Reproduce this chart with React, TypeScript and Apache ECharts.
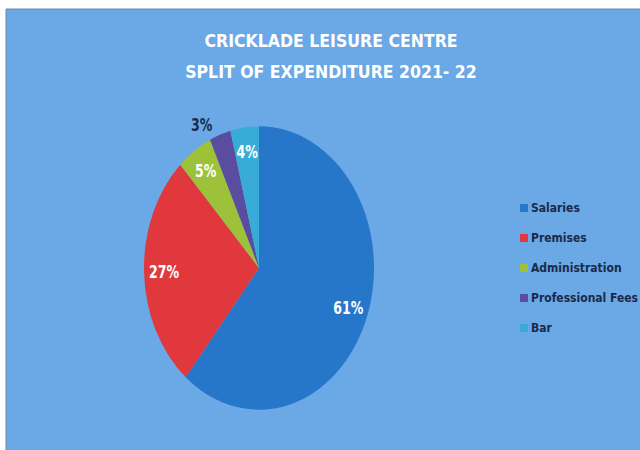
import React, { useEffect, useRef } from "react";
import * as echarts from "echarts";

const categories = ["Salaries", "Premises", "Administration", "Professional Fees", "Bar"];
const values = [61, 27, 5, 3, 4];
const colors = ["#2676ca", "#e0383c", "#9dc23a", "#5a4c9e", "#38acd6"];
const titleLines = ["CRICKLADE LEISURE CENTRE", "SPLIT OF EXPENDITURE 2021- 22"];
const outsideLabelIndex = 3;

const FONT = "'DejaVu Sans Condensed', 'Liberation Sans Narrow', 'Noto Sans', sans-serif";
const PIE_CENTER = [259, 268];
const Y_STRETCH = 1.232;

export default function App() {
  const mainRef = useRef<HTMLDivElement>(null);
  const pieRef = useRef<HTMLDivElement>(null);

  useEffect(() => {
    const main = echarts.init(mainRef.current!, null, { renderer: "svg" });
    const pie = echarts.init(pieRef.current!, null, { renderer: "svg" });

    main.setOption({
      animation: false,
      backgroundColor: "#ffffff",
      color: colors,
      graphic: [
        {
          type: "rect",
          z: -10,
          shape: { x: 6, y: 9, width: 640, height: 445 },
          style: { fill: "#6aa8e6", stroke: "#6a86a8", lineWidth: 1 },
        },
      ],
      title: {
        text: titleLines.join("\n"),
        left: 326,
        textAlign: "center",
        top: 20,
        textStyle: {
          color: "#ffffff",
          fontFamily: FONT,
          fontWeight: "bold",
          fontSize: 17.5,
          lineHeight: 31,
        },
      },
      legend: {
        orient: "vertical",
        left: 515,
        top: 197,
        itemWidth: 8,
        itemHeight: 8,
        itemGap: 18,
        icon: "rect",
        data: categories,
        textStyle: {
          color: "#1b2a48",
          fontFamily: FONT,
          fontWeight: "bold",
          fontSize: 12,
          padding: [0, 0, 0, -2],
        },
      },
      series: [
        {
          type: "pie",
          center: [-100, -100],
          radius: [0, 0],
          silent: true,
          label: { show: false },
          labelLine: { show: false },
          data: categories.map((n, i) => ({ name: n, value: values[i] })),
        },
      ],
    });

    pie.setOption({
      animation: false,
      color: colors,
      series: [
        {
          type: "pie",
          center: PIE_CENTER,
          radius: 115,
          startAngle: 90,
          clockwise: true,
          silent: true,
          avoidLabelOverlap: false,
          itemStyle: { borderWidth: 0 },
          label: {
            position: "outside",
            color: "#1b2a48",
            fontFamily: FONT,
            fontWeight: "bold",
            fontSize: 14,
            formatter: (p: any) => p.value + "%",
          },
          labelLine: { show: false, length: 8, length2: 0 },
          data: categories.map((n, i) => ({
            name: n,
            value: values[i],
            label: { show: i === outsideLabelIndex },
          })),
        },
        {
          type: "pie",
          center: PIE_CENTER,
          radius: 184,
          startAngle: 90,
          clockwise: true,
          silent: true,
          avoidLabelOverlap: false,
          itemStyle: { color: "rgba(0,0,0,0)", borderWidth: 0 },
          label: {
            position: "inside",
            color: "#ffffff",
            fontFamily: FONT,
            fontWeight: "bold",
            fontSize: 14,
            formatter: (p: any) => p.value + "%",
          },
          labelLine: { show: false },
          data: categories.map((n, i) => ({
            name: n,
            value: values[i],
            label: { show: i !== outsideLabelIndex },
          })),
        },
      ],
    });

    return () => {
      main.dispose();
      pie.dispose();
    };
  }, []);

  return (
    <div style={{ position: "fixed", left: 0, top: 0, width: 640, height: 450, background: "#fff", overflow: "hidden" }}>
      <div ref={mainRef} style={{ position: "absolute", left: 0, top: 0, width: 640, height: 450 }} />
      <div
        ref={pieRef}
        style={{
          position: "absolute",
          left: 0,
          top: 0,
          width: 640,
          height: 450,
          transform: `scaleY(${Y_STRETCH})`,
          transformOrigin: `${PIE_CENTER[0]}px ${PIE_CENTER[1]}px`,
        }}
      />
    </div>
  );
}
